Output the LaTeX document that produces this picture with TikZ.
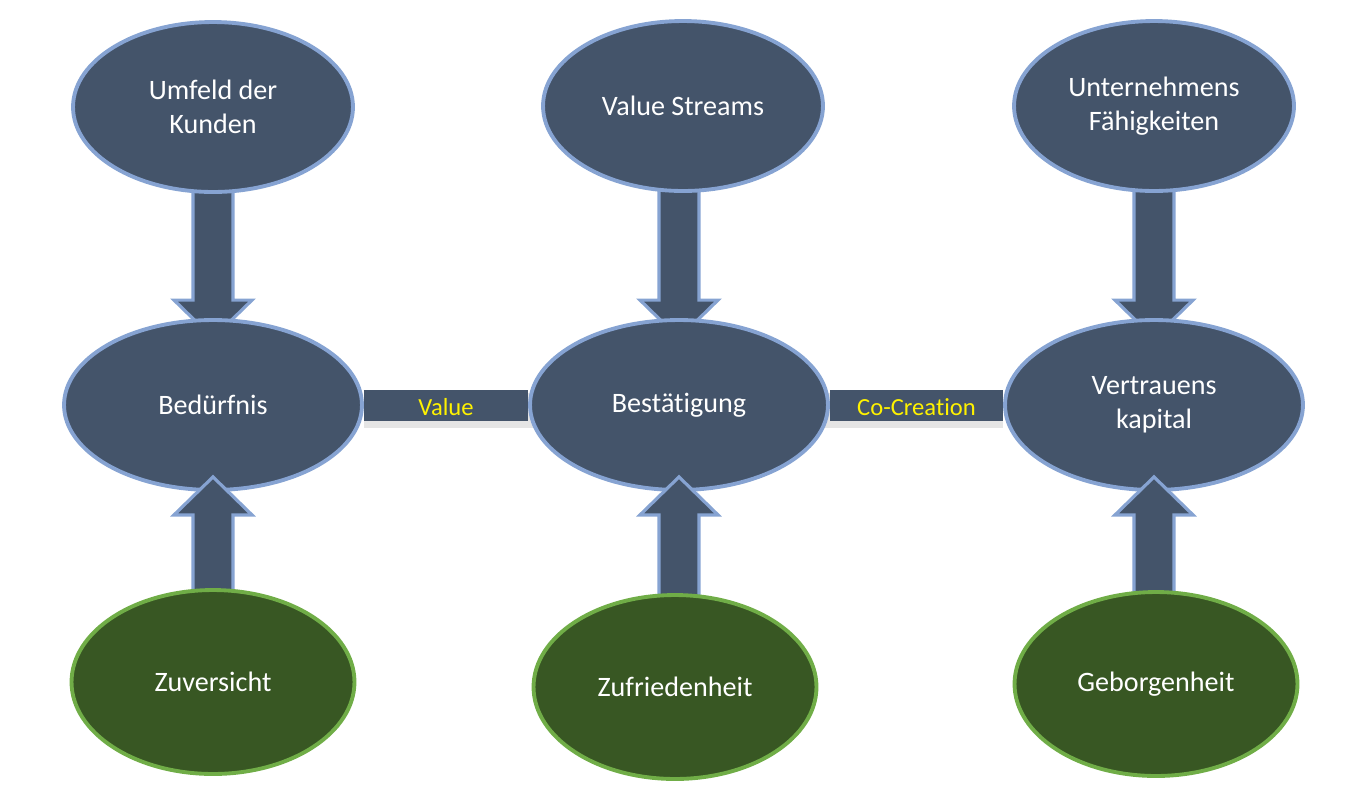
\documentclass[tikz,border=0pt]{standalone}
\usepackage{fontspec}
\setmainfont{Carlito}[Ligatures={NoCommon,NoRequired,NoContextual}]
\usetikzlibrary{shapes.geometric,calc}
\pgfdeclarelayer{background}
\pgfdeclarelayer{front}
\pgfsetlayers{background,main,front}
\definecolor{slate}{HTML}{44546A}
\definecolor{slateedge}{HTML}{86A3D2}
\definecolor{moss}{HTML}{385723}
\definecolor{mossedge}{HTML}{70AD47}
\pgfmathsetlengthmacro\shaftw{0.4cm}
\pgfmathsetlengthmacro\headw{0.78cm}
\pgfmathsetlengthmacro\headl{0.76cm}
% keeps t and i apart
\newcommand\ti{t\kern0pt i}
% fat arrow from #1 (tail) to #2 (tip)
\newcommand\blockarrow[2]{%
  \coordinate (hb) at ($(#2)!\headl!(#1)$);
  \path[fatarrow] ($(#1)!\shaftw!90:(#2)$) -- ($(hb)!\shaftw!90:(#2)$) -- ($(hb)!\headw!90:(#2)$) -- (#2)
    -- ($(hb)!\headw!-90:(#2)$) -- ($(hb)!\shaftw!-90:(#2)$) -- ($(#1)!\shaftw!-90:(#2)$) -- cycle;}
\tikzset{
  blob/.style={ellipse, draw=slateedge, fill=slate, line width=2.2pt, text=white, align=center, inner sep=0pt, font=\fontsize{16}{19.3}\selectfont},
  topblob/.style={blob, minimum width=5.6cm, minimum height=3.4cm},
  midblob/.style={blob, minimum width=5.96cm, minimum height=3.4cm},
  lowblob/.style={blob, draw=mossedge, fill=moss, minimum width=5.66cm, minimum height=3.68cm},
  fatarrow/.style={draw=slateedge, fill=slate, line width=1.8pt, line join=miter},
  bar/.style={draw=slate, line width=0.62cm},
  barshade/.style={draw=black, opacity=0.1, line width=0.7cm},
  barlabel/.style={text=yellow, font=\fontsize{14}{16}\selectfont}
}
\begin{document}
\begin{tikzpicture}[x=0.02cm, y=-0.02cm]
\useasboundingbox (0,0) rectangle (1345,796);
% top row
\node[topblob] (umfeld) at (213,107) {Umfeld der\\Kunden};
\node[topblob] (streams) at (683,106) {Value Streams};
\node[topblob] (faehig) at (1154,106) {Unternehmens\\Fähigkeiten};
% middle row
\node[midblob] (beduerfnis) at (213,405) {Bedürfnis};
\node[midblob] (bestaetigung) at (679,405) {Bestä\ti gung};
\node[midblob] (vertrauen) at (1154,405) {Vertrauens\\kapital};
% bottom row
\begin{pgfonlayer}{front}
\node[lowblob] (zuversicht) at (213,682) {Zuversicht};
\node[lowblob] (zufrieden) at (675,687) {Zufriedenheit};
\node[lowblob] (geborgen) at (1156,684) {Geborgenheit};
\end{pgfonlayer}
\begin{pgfonlayer}{background}
\draw[barshade] ($(beduerfnis.east)+(0,5)$) -- ($(vertrauen.west)+(0,5)$);
\draw[bar] (beduerfnis.east) -- node[barlabel, yshift=-0.04cm]{Value} (bestaetigung.west);
\draw[bar] (bestaetigung.east) -- node[barlabel, yshift=-0.04cm]{Co-Crea\ti on} (vertrauen.west);
\foreach \up/\down in {umfeld/beduerfnis, streams/bestaetigung, faehig/vertrauen}{
  \coordinate (tip) at ($(\down.north)+(0,20)$);
  \coordinate (tail) at ($(tip |- \up.south)+(0,-15)$);
  \blockarrow{tail}{tip}
}
\end{pgfonlayer}
\foreach \low/\mid in {zuversicht/beduerfnis, zufrieden/bestaetigung, geborgen/vertrauen}{
  \coordinate (tip) at ($(\mid.south)+(0,-15)$);
  \coordinate (tail) at ($(tip |- \low.north)+(0,15)$);
  \blockarrow{tail}{tip}
}
\end{tikzpicture}
\end{document}
